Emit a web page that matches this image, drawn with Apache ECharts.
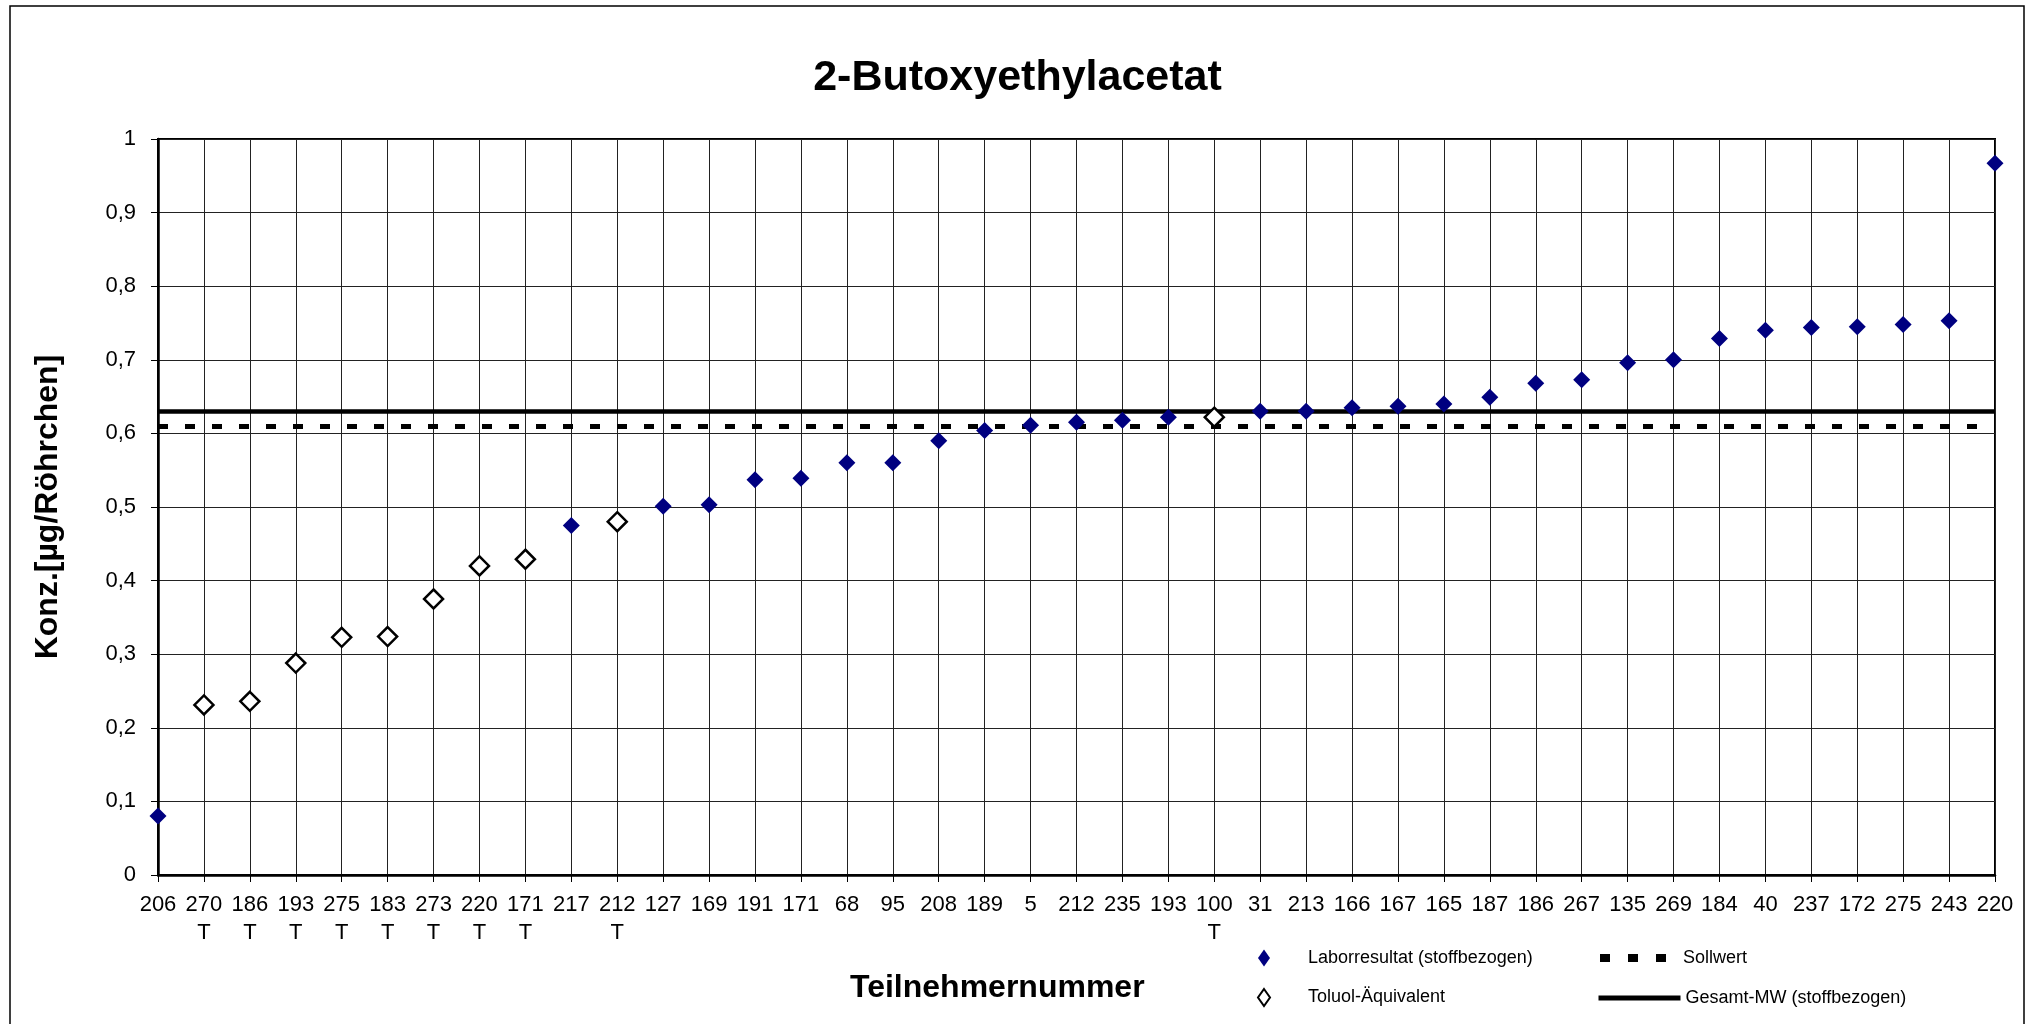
<!DOCTYPE html>
<html>
<head>
<meta charset="utf-8">
<script src="https://cdn.jsdelivr.net/npm/echarts@6/dist/echarts.min.js"></script>
<style>
  html, body { margin: 0; padding: 0; background: #fff; }
  #chart { width: 2035px; height: 1024px; }
</style>
</head>
<body>
<div id="chart"></div>
<script>
// ---- data ----
const participants = [206, 270, 186, 193, 275, 183, 273, 220, 171, 217, 212, 127, 169, 191, 171, 68, 95, 208, 189, 5, 212, 235, 193, 100, 31, 213, 166, 167, 165, 187, 186, 267, 135, 269, 184, 40, 237, 172, 275, 243, 220];
const toluolFlags = ['', 'T', 'T', 'T', 'T', 'T', 'T', 'T', 'T', '', 'T', '', '', '', '', '', '', '', '', '', '', '', '', 'T', '', '', '', '', '', '', '', '', '', '', '', '', '', '', '', '', ''];
const values = [0.080, 0.231, 0.236, 0.288, 0.323, 0.324, 0.375, 0.420, 0.429, 0.475, 0.480, 0.501, 0.503, 0.537, 0.539, 0.560, 0.560, 0.590, 0.604, 0.611, 0.615, 0.618, 0.622, 0.622, 0.630, 0.630, 0.635, 0.637, 0.640, 0.649, 0.668, 0.673, 0.696, 0.700, 0.729, 0.740, 0.744, 0.745, 0.748, 0.753, 0.967];
const sollwert = 0.6135;
const gesamtMW = 0.6327;
const yTicks = [0, 0.1, 0.2, 0.3, 0.4, 0.5, 0.6, 0.7, 0.8, 0.9, 1];

const FONT = "'Liberation Sans', Arial, sans-serif";
const categories = participants.map((p, i) => toluolFlags[i] ? p + '\n' + toluolFlags[i] : String(p));
const labData = values.map((v, i) => toluolFlags[i] ? '-' : v);
const toluolData = values.map((v, i) => toluolFlags[i] ? v : '-');

const legendText = { fontFamily: FONT, fontSize: 18, color: '#000' };

const chart = echarts.init(document.getElementById('chart'), null, { renderer: 'canvas' });
chart.setOption({
  animation: false,
  backgroundColor: '#fff',
  title: [
    { text: '2-Butoxyethylacetat', left: 'center', top: 52,
      textStyle: { fontFamily: FONT, fontSize: 43, fontWeight: 'bold', color: '#000' } },
    { text: 'Teilnehmernummer', left: 845, top: 967,
      textStyle: { fontFamily: FONT, fontSize: 32, fontWeight: 'bold', color: '#000' } }
  ],
  graphic: [
    { type: 'rect', z: -1, shape: { x: 10, y: 6, width: 2014, height: 1040 },
      style: { fill: 'none', stroke: '#000', lineWidth: 1.5 } }
  ],
  grid: { left: 158, right: 40, top: 139, bottom: 149, show: true,
          borderColor: '#000', borderWidth: 2, backgroundColor: 'transparent' },
  legend: [
    { orient: 'vertical', left: 1257, top: 949, padding: 0, itemWidth: 12, itemHeight: 17, itemGap: 21,
      symbolKeepAspect: false,
      textStyle: Object.assign({ padding: [0, 0, 0, 33] }, legendText),
      data: [
        { name: 'Laborresultat (stoffbezogen)', icon: 'diamond' },
        { name: 'Toluol-Äquivalent', icon: 'diamond', itemStyle: { borderWidth: 2 } }
      ] },
    { orient: 'vertical', left: 1596, top: 949, padding: 0, itemWidth: 68, itemHeight: 16,
      textStyle: Object.assign({ padding: [0, 0, 0, 10] }, legendText),
      data: [
        { name: 'Sollwert', itemStyle: { opacity: 0 },
          lineStyle: { width: 8, type: [10, 18], color: '#000' } }
      ] },
    { orient: 'vertical', left: 1596, top: 989, padding: 0, itemWidth: 82, itemHeight: 16,
      textStyle: legendText,
      data: [
        { name: 'Gesamt-MW (stoffbezogen)', itemStyle: { opacity: 0 },
          lineStyle: { width: 5, type: 'solid', color: '#000' } }
      ] }
  ],
  xAxis: {
    type: 'category',
    data: categories,
    boundaryGap: false,
    axisLine: { show: true, lineStyle: { color: '#000', width: 2.5 } },
    axisTick: { show: true, interval: 0, length: 7, lineStyle: { color: '#000', width: 1 } },
    axisLabel: { interval: 0, margin: 16, fontFamily: FONT, fontSize: 22, lineHeight: 28, color: '#000' },
    splitLine: { show: true, interval: 0, lineStyle: { color: '#222', width: 1 } }
  },
  yAxis: {
    type: 'value',
    min: 0, max: 1, interval: 0.1,
    name: 'Konz.[µg/Röhrchen]',
    nameLocation: 'middle',
    nameGap: 94,
    nameTextStyle: { fontFamily: FONT, fontSize: 32, fontWeight: 'bold', color: '#000' },
    axisLine: { show: true, lineStyle: { color: '#000', width: 2.5 } },
    axisTick: { show: true, length: 7, lineStyle: { color: '#000', width: 1 } },
    axisLabel: { margin: 22, fontFamily: FONT, fontSize: 22, color: '#000',
      formatter: v => {
        const t = yTicks.find(x => Math.abs(x - v) < 1e-9);
        return String(t !== undefined ? t : Math.round(v * 10) / 10).replace('.', ',');
      } },
    splitLine: { show: true, lineStyle: { color: '#222', width: 1 } }
  },
  series: [
    { name: 'Laborresultat (stoffbezogen)', type: 'scatter', z: 5,
      data: labData, symbol: 'diamond', symbolSize: 17,
      itemStyle: { color: '#000080', opacity: 1 } },
    { name: 'Toluol-Äquivalent', type: 'scatter', z: 5,
      data: toluolData, symbol: 'diamond', symbolSize: 19,
      itemStyle: { color: '#fff', borderColor: '#000', borderWidth: 2.5, opacity: 1 } },
    { name: 'Sollwert', type: 'line', z: 3, data: [], symbol: 'none',
      itemStyle: { color: '#000' },
      lineStyle: { color: '#000', width: 5, type: [10, 17] },
      markLine: { silent: true, symbol: ['none', 'none'], label: { show: false },
        lineStyle: { color: '#000', width: 5, type: [10, 17] },
        data: [{ yAxis: sollwert }] } },
    { name: 'Gesamt-MW (stoffbezogen)', type: 'line', z: 3, data: [], symbol: 'none',
      itemStyle: { color: '#000' },
      lineStyle: { color: '#000', width: 4.5, type: 'solid' },
      markLine: { silent: true, symbol: ['none', 'none'], label: { show: false },
        lineStyle: { color: '#000', width: 4.5, type: 'solid' },
        data: [{ yAxis: gesamtMW }] } }
  ]
});
</script>
</body>
</html>
